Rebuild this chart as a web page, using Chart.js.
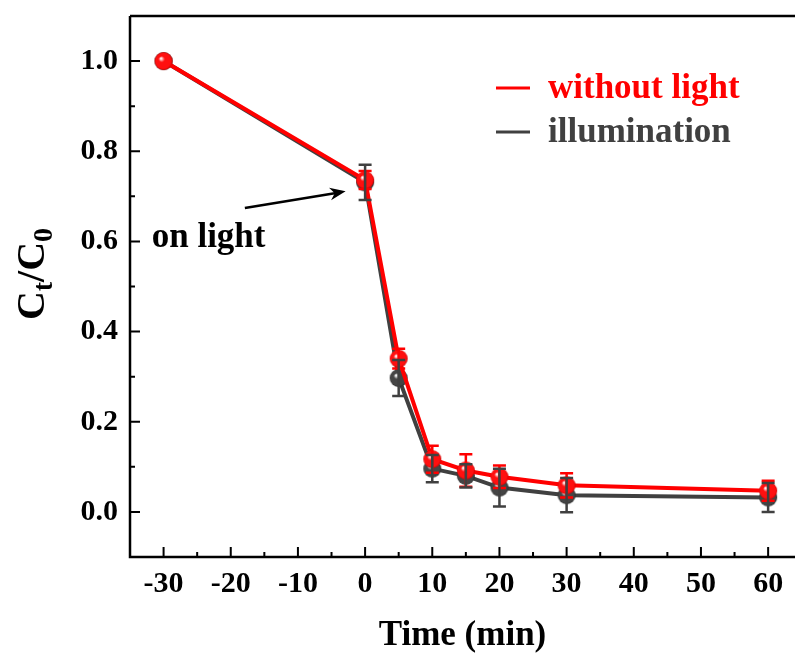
<!DOCTYPE html>
<html>
<head>
<meta charset="utf-8">
<script src="https://cdn.jsdelivr.net/npm/chart.js@4"></script>
<style>
  html, body { margin: 0; padding: 0; background: #fff; overflow: hidden; }
  #wrap { width: 795px; height: 655px; }
</style>
</head>
<body>
<div id="wrap"><canvas id="decayChart" width="795" height="655"></canvas></div>
<script>
// Time points (min) and measured Ct/C0 values
const times = [-30, 0, 5, 10, 15, 20, 30, 60];
const darkValues = [1.0, 0.736, 0.34, 0.117, 0.092, 0.078, 0.059, 0.047];
const darkErrors = [0, 0.02, 0.022, 0.03, 0.036, 0.025, 0.027, 0.022];
const lightValues = [1.0, 0.731, 0.297, 0.096, 0.08, 0.054, 0.037, 0.032];
const lightErrors = [0, 0.039, 0.04, 0.03, 0.026, 0.042, 0.038, 0.032];

const xTicks = [-30, -20, -10, 0, 10, 20, 30, 40, 50, 60];
const yTicks = [0.0, 0.2, 0.4, 0.6, 0.8, 1.0];

// annotation, in data units
const noteText = 'on light';
const notePos = {x: -23.3, y: 0.588};
const arrowFrom = {x: -17.9, y: 0.674};
const arrowTo = {x: -2.9, y: 0.711};

const RED = '#ff0000';
const GREY = '#404040';
const FONT = "'Liberation Serif', 'Times New Roman', serif";

// little shaded ball used as the marker
function ball(color, dark, r) {
    const c = document.createElement('canvas');
    c.width = c.height = r * 2 + 2;
    const g = c.getContext('2d');
    const cx = r + 1, cy = r + 1;
    const grad = g.createRadialGradient(cx - r * 0.3, cy - r * 0.3, 0.5, cx, cy, r);
    grad.addColorStop(0, '#ffffff');
    grad.addColorStop(0.3, color);
    grad.addColorStop(0.85, color);
    grad.addColorStop(1, dark);
    g.fillStyle = grad;
    g.beginPath();
    g.arc(cx, cy, r, 0, Math.PI * 2);
    g.fill();
    return c;
}

function toPoints(values) {
    return times.map((t, i) => ({x: t, y: values[i]}));
}

const errorSets = [
    {values: darkValues, errors: darkErrors, color: RED},
    {values: lightValues, errors: lightErrors, color: GREY}
];

const decorations = {
    id: 'decorations',
    afterDatasetsDraw(chart) {
        const {ctx, scales: {x, y}} = chart;
        ctx.save();
        ctx.lineWidth = 2.5;
        errorSets.forEach(set => {
            ctx.strokeStyle = set.color;
            times.forEach((t, i) => {
                const e = set.errors[i];
                if (!e) return;
                const px = x.getPixelForValue(t);
                const top = y.getPixelForValue(set.values[i] + e);
                const bot = y.getPixelForValue(set.values[i] - e);
                ctx.beginPath();
                ctx.moveTo(px, top); ctx.lineTo(px, bot);
                ctx.moveTo(px - 6.5, top); ctx.lineTo(px + 6.5, top);
                ctx.moveTo(px - 6.5, bot); ctx.lineTo(px + 6.5, bot);
                ctx.stroke();
            });
        });
        ctx.restore();
    },
    afterDraw(chart) {
        const {ctx, chartArea: a, scales: {x, y}} = chart;
        ctx.save();
        ctx.strokeStyle = '#000';
        ctx.lineCap = 'butt';

        // frame: left, bottom, top
        ctx.lineWidth = 2.5;
        ctx.beginPath();
        ctx.moveTo(a.left, a.top); ctx.lineTo(a.right, a.top);
        ctx.moveTo(a.left, a.top); ctx.lineTo(a.left, a.bottom);
        ctx.moveTo(a.left - 1.25, a.bottom); ctx.lineTo(a.right, a.bottom);
        ctx.stroke();

        // inward ticks
        ctx.lineWidth = 2;
        ctx.beginPath();
        xTicks.forEach(t => {
            const px = x.getPixelForValue(t);
            ctx.moveTo(px, a.bottom); ctx.lineTo(px, a.bottom - 10);
            const m = x.getPixelForValue(t + 5);
            if (m < a.right) { ctx.moveTo(m, a.bottom); ctx.lineTo(m, a.bottom - 5); }
        });
        yTicks.forEach((t, i) => {
            const py = y.getPixelForValue(t);
            ctx.moveTo(a.left, py); ctx.lineTo(a.left + 10, py);
            if (i < yTicks.length - 1) {
                const m = y.getPixelForValue(t + 0.1);
                ctx.moveTo(a.left, m); ctx.lineTo(a.left + 5, m);
            }
        });
        ctx.stroke();

        // legend inside plot
        const rows = [
            {ds: chart.data.datasets[0], y: 88},
            {ds: chart.data.datasets[1], y: 132}
        ];
        ctx.font = 'bold 35px ' + FONT;
        ctx.textBaseline = 'middle';
        ctx.textAlign = 'left';
        rows.forEach(r => {
            ctx.strokeStyle = r.ds.borderColor;
            ctx.lineWidth = 3;
            ctx.beginPath();
            ctx.moveTo(496, r.y); ctx.lineTo(530, r.y);
            ctx.stroke();
            ctx.fillStyle = r.ds.borderColor;
            ctx.fillText(r.ds.label, 548, r.y + 1);
        });

        // annotation + arrow
        ctx.fillStyle = '#000';
        ctx.textAlign = 'center';
        ctx.textBaseline = 'alphabetic';
        ctx.fillText(noteText, x.getPixelForValue(notePos.x), y.getPixelForValue(notePos.y));
        const x0 = x.getPixelForValue(arrowFrom.x), y0 = y.getPixelForValue(arrowFrom.y);
        const x1 = x.getPixelForValue(arrowTo.x), y1 = y.getPixelForValue(arrowTo.y);
        const ang = Math.atan2(y1 - y0, x1 - x0);
        ctx.strokeStyle = '#000';
        ctx.lineWidth = 2.5;
        ctx.beginPath();
        ctx.moveTo(x0, y0);
        ctx.lineTo(x1 - 8 * Math.cos(ang), y1 - 8 * Math.sin(ang));
        ctx.stroke();
        ctx.beginPath();
        ctx.moveTo(x1, y1);
        ctx.lineTo(x1 - 17 * Math.cos(ang - 0.38), y1 - 17 * Math.sin(ang - 0.38));
        ctx.lineTo(x1 - 11 * Math.cos(ang), y1 - 11 * Math.sin(ang));
        ctx.lineTo(x1 - 17 * Math.cos(ang + 0.38), y1 - 17 * Math.sin(ang + 0.38));
        ctx.closePath();
        ctx.fill();

        // y title Ct/C0 with subscripts
        ctx.translate(31, 274);
        ctx.rotate(-Math.PI / 2);
        const big = 'bold 40px ' + FONT, small = 'bold 28px ' + FONT;
        const parts = [['C', big, 0], ['t', small, 8], ['/C', big, 0], ['0', small, 8]];
        let total = 0;
        parts.forEach(p => { ctx.font = p[1]; total += ctx.measureText(p[0]).width; });
        let cx = -total / 2;
        ctx.textAlign = 'left';
        parts.forEach(p => {
            ctx.font = p[1];
            ctx.fillText(p[0], cx, 13 + p[2]);
            cx += ctx.measureText(p[0]).width;
        });
        ctx.restore();
    }
};

const config = {
    type: 'scatter',
    data: {
        datasets: [{
            label: 'without light',
            data: toPoints(darkValues),
            borderColor: RED,
            backgroundColor: RED,
            borderWidth: 4,
            showLine: true,
            pointStyle: ball('#ff1010', '#d00000', 9),
            pointRadius: 9
        }, {
            label: 'illumination',
            data: toPoints(lightValues),
            borderColor: GREY,
            backgroundColor: GREY,
            borderWidth: 4,
            showLine: true,
            pointStyle: ball('#454545', '#2a2a2a', 9),
            pointRadius: 9
        }]
    },
    options: {
        responsive: false,
        animation: false,
        layout: {autoPadding: false, padding: {top: 16, right: 0, left: 0, bottom: 0}},
        plugins: {legend: {display: false}, tooltip: {enabled: false}},
        scales: {
            x: {
                type: 'linear',
                min: -35,
                max: 64,
                afterBuildTicks: s => { s.ticks = xTicks.map(v => ({value: v})); },
                afterFit: s => { s.height = 98; s.paddingLeft = 0; s.paddingRight = 0; },
                grid: {display: false, drawTicks: false},
                border: {display: false},
                ticks: {
                    padding: 9,
                    color: '#000',
                    font: {family: FONT, size: 30, weight: 'bold'},
                    callback: v => String(v)
                },
                title: {
                    display: true,
                    text: 'Time (min)',
                    color: '#000',
                    padding: {top: 0, bottom: 2},
                    font: {family: FONT, size: 35, weight: 'bold', lineHeight: 1}
                }
            },
            y: {
                min: -0.1,
                max: 1.1,
                afterBuildTicks: s => { s.ticks = yTicks.map(v => ({value: v})); },
                afterFit: s => { s.width = 130; s.paddingTop = 0; s.paddingBottom = 0; },
                grid: {display: false, drawTicks: false},
                border: {display: false},
                ticks: {
                    padding: 12,
                    color: '#000',
                    font: {family: FONT, size: 30, weight: 'bold'},
                    callback: v => v.toFixed(1)
                }
            }
        }
    },
    plugins: [decorations]
};

new Chart(document.getElementById('decayChart').getContext('2d'), config);
</script>
</body>
</html>
